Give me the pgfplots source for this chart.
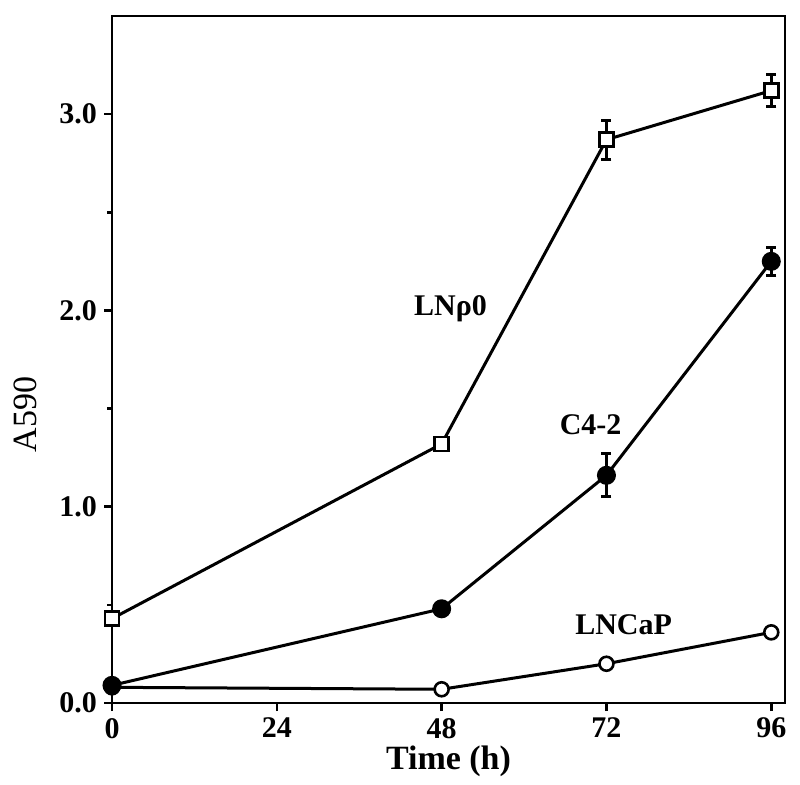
\documentclass[border=0pt]{standalone}
\usepackage{fontspec}
\setmainfont{Liberation Serif}
\usepackage{pgfplots}
\pgfplotsset{compat=1.18}

\begin{document}
\begin{tikzpicture}
\begin{axis}[
    scale only axis,
    width=336.5pt, height=343.5pt,
    xmin=0, xmax=98, ymin=0, ymax=3.5,
    axis line style={line width=1.3pt},
    xtick={0,24,48,72,96},
    ytick={0,1,2,3},
    minor ytick={0.5,1.5,2.5},
    xtick pos=left, ytick pos=left,
    tick align=outside,
    major tick length=4pt, minor tick length=2.5pt,
    every tick/.style={black, line width=1.3pt},
    /pgf/number format/assume math mode=true,
    yticklabel style={/pgf/number format/.cd, fixed, fixed zerofill, precision=1},
    tick label style={font=\fontsize{15}{15}\selectfont\bfseries},
    xlabel={Time (h)},
    ylabel={A590},
    xlabel style={font=\fontsize{17}{17}\selectfont\bfseries, yshift=3pt},
    ylabel style={font=\fontsize{17}{17}\selectfont, at={(axis description cs:-0.129,0.42)}, anchor=center},
    clip=false,
    every axis plot/.append style={line width=1.5pt, black},
    error bars/y dir=both, error bars/y explicit,
    error bars/error bar style={line width=1.5pt},
    error bars/error mark options={rotate=90, mark size=2.5pt, line width=1.5pt},
]
% LNCaP
\addplot[mark=*, mark options={fill=white, line width=1.3pt}, mark size=3.5pt]
  coordinates {(0,0.08) (48,0.07) (72,0.20) (96,0.36)};
% C4-2
\addplot[mark=*, mark options={fill=black}, mark size=4pt]
  coordinates {(0,0.09) +- (0,0) (48,0.48) +- (0,0) (72,1.16) +- (0,0.11) (96,2.25) +- (0,0.07)};
% LNrho0
\addplot[mark=square*, mark options={fill=white, line width=1.3pt}, mark size=3.5pt]
  coordinates {(0,0.43) +- (0,0) (48,1.32) +- (0,0) (72,2.87) +- (0,0.10) (96,3.12) +- (0,0.08)};

\node[font=\fontsize{15}{15}\selectfont\bfseries] at (axis cs:49.3,2.01) {LNρ0};
\node[font=\fontsize{15}{15}\selectfont\bfseries] at (axis cs:69.7,1.42) {C4-2};
\node[font=\fontsize{15}{15}\selectfont\bfseries] at (axis cs:74.5,0.40) {LNCaP};
\end{axis}
\pgfresetboundingbox
\path ([shift={(-56pt,-40.5pt)}]current axis.south west) rectangle ([shift={(7.5pt,8pt)}]current axis.north east);
\end{tikzpicture}
\end{document}
